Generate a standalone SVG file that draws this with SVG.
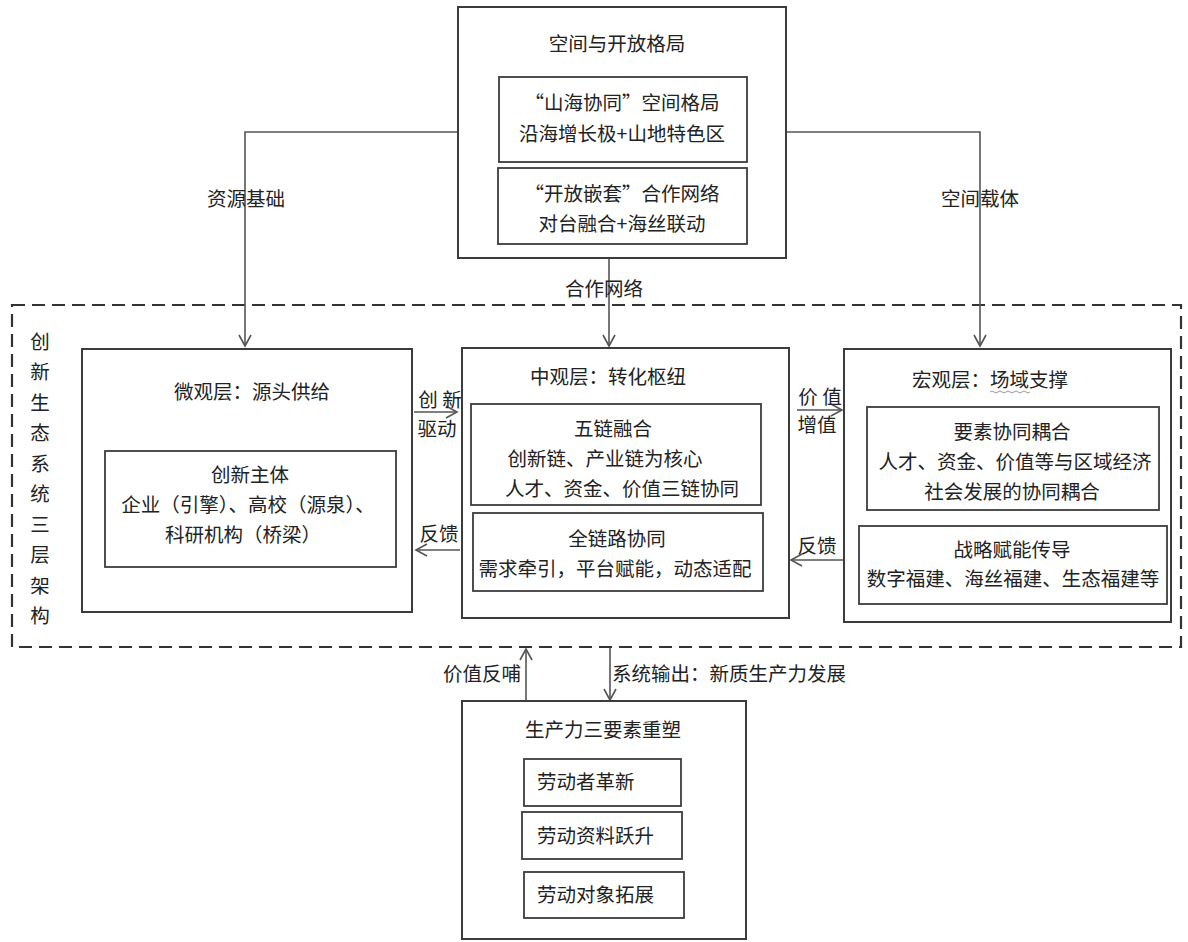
<svg xmlns="http://www.w3.org/2000/svg" width="1188" height="942" viewBox="0 0 1188 942">
<defs>
<marker id="arr" markerWidth="14" markerHeight="14" refX="12" refY="7" orient="auto" markerUnits="userSpaceOnUse">
<path d="M1,1 L12,7 L1,13" fill="none" stroke="#555" stroke-width="1.6"/>
</marker>
<style>
text{font-family:"Noto Sans CJK SC","Liberation Sans",sans-serif;font-size:19.5px;fill:#222;text-anchor:middle;dominant-baseline:central}
.box{fill:#fff;stroke:#3c3c3c;stroke-width:2}
.inner{fill:#fff;stroke:#3c3c3c;stroke-width:1.8}
.con{fill:none;stroke:#555;stroke-width:1.6}
.dash{fill:none;stroke:#333;stroke-width:2.2;stroke-dasharray:13 7}
.st{text-anchor:start}
</style>
</defs>
<rect width="1188" height="942" fill="#fff"/>

<g id="frame">
<rect class="dash" x="12" y="305" width="1169" height="342"/>
<text x="40" y="340">创</text>
<text x="40" y="370.5">新</text>
<text x="40" y="401">生</text>
<text x="40" y="431.5">态</text>
<text x="40" y="462">系</text>
<text x="40" y="492.5">统</text>
<text x="40" y="523">三</text>
<text x="40" y="553.5">层</text>
<text x="40" y="584">架</text>
<text x="40" y="614.5">构</text>
</g>

<g id="connectors">
<path class="con" d="M458,132 H245 V346" marker-end="url(#arr)"/>
<path class="con" d="M786,132 H980 V346" marker-end="url(#arr)"/>
<path class="con" d="M609,258 V346" marker-end="url(#arr)"/>
<path class="con" d="M414,412 H457" marker-end="url(#arr)"/>
<path class="con" d="M460,550 H416" marker-end="url(#arr)"/>
<path class="con" d="M797,410 H842" marker-end="url(#arr)"/>
<path class="con" d="M843,560 H791" marker-end="url(#arr)"/>
<path class="con" d="M526,701 V649" marker-end="url(#arr)"/>
<path class="con" d="M610,648 V700" marker-end="url(#arr)"/>
<text x="246" y="197">资源基础</text>
<text x="980" y="197">空间载体</text>
<text x="604" y="287">合作网络</text>
<text x="440" y="398">创 新</text>
<text x="437" y="427">驱动</text>
<text x="439" y="532">反馈</text>
<text x="820" y="395">价 值</text>
<text x="817" y="423">增值</text>
<text x="817" y="544">反馈</text>
<text x="482" y="672">价值反哺</text>
<text class="st" x="612" y="672">系统输出：新质生产力发展</text>
</g>

<g id="top">
<rect class="box" x="458" y="7" width="328" height="251"/>
<text x="617" y="42">空间与开放格局</text>
<rect class="inner" x="499" y="77" width="248" height="85"/>
<text x="622" y="101">“山海协同”空间格局</text>
<text x="622" y="132">沿海增长极+山地特色区</text>
<rect class="inner" x="498" y="168" width="249" height="76"/>
<text x="622" y="192">“开放嵌套”合作网络</text>
<text x="622" y="222">对台融合+海丝联动</text>
</g>

<g id="micro">
<rect class="box" x="82" y="349" width="330" height="263"/>
<text x="252" y="390">微观层：源头供给</text>
<rect class="inner" x="105" y="451" width="291" height="116"/>
<text x="250" y="473">创新主体</text>
<text x="248" y="503">企业（引擎）、高校（源泉）、</text>
<text x="243" y="533">科研机构（桥梁）</text>
</g>

<g id="meso">
<rect class="box" x="462" y="348" width="327" height="270"/>
<text x="608" y="375">中观层：转化枢纽</text>
<rect class="inner" x="471" y="404" width="290" height="101"/>
<text x="613" y="427">五链融合</text>
<text x="605" y="457">创新链、产业链为核心</text>
<text x="622" y="487">人才、资金、价值三链协同</text>
<rect class="inner" x="473" y="513" width="290" height="78"/>
<text x="617" y="537">全链路协同</text>
<text x="615" y="567">需求牵引，平台赋能，动态适配</text>
</g>

<g id="macro">
<rect class="box" x="844" y="349" width="327" height="273"/>
<text x="990" y="378">宏观层：场域支撑</text>
<path d="M990,392 q2,-2 4,0 t4,0 t4,0 t4,0 t4,0 t4,0 t4,0 t4,0 t4,0 t4,0" fill="none" stroke="#999" stroke-width="1"/>
<rect class="inner" x="867" y="407" width="292" height="103"/>
<text x="1012" y="430">要素协同耦合</text>
<text x="1015" y="460">人才、资金、价值等与区域经济</text>
<text x="1012" y="490">社会发展的协同耦合</text>
<rect class="inner" x="859" y="526" width="308" height="78"/>
<text x="1012" y="548">战略赋能传导</text>
<text x="1013" y="577">数字福建、海丝福建、生态福建等</text>
</g>

<g id="bottom">
<rect class="box" x="462" y="701" width="284" height="238"/>
<text x="603" y="728">生产力三要素重塑</text>
<rect class="inner" x="524" y="759" width="157" height="47"/>
<text class="st" x="537" y="780">劳动者革新</text>
<rect class="inner" x="522" y="812" width="160" height="47"/>
<text class="st" x="537" y="834">劳动资料跃升</text>
<rect class="inner" x="524" y="872" width="160" height="46"/>
<text class="st" x="537" y="893">劳动对象拓展</text>
</g>
</svg>
